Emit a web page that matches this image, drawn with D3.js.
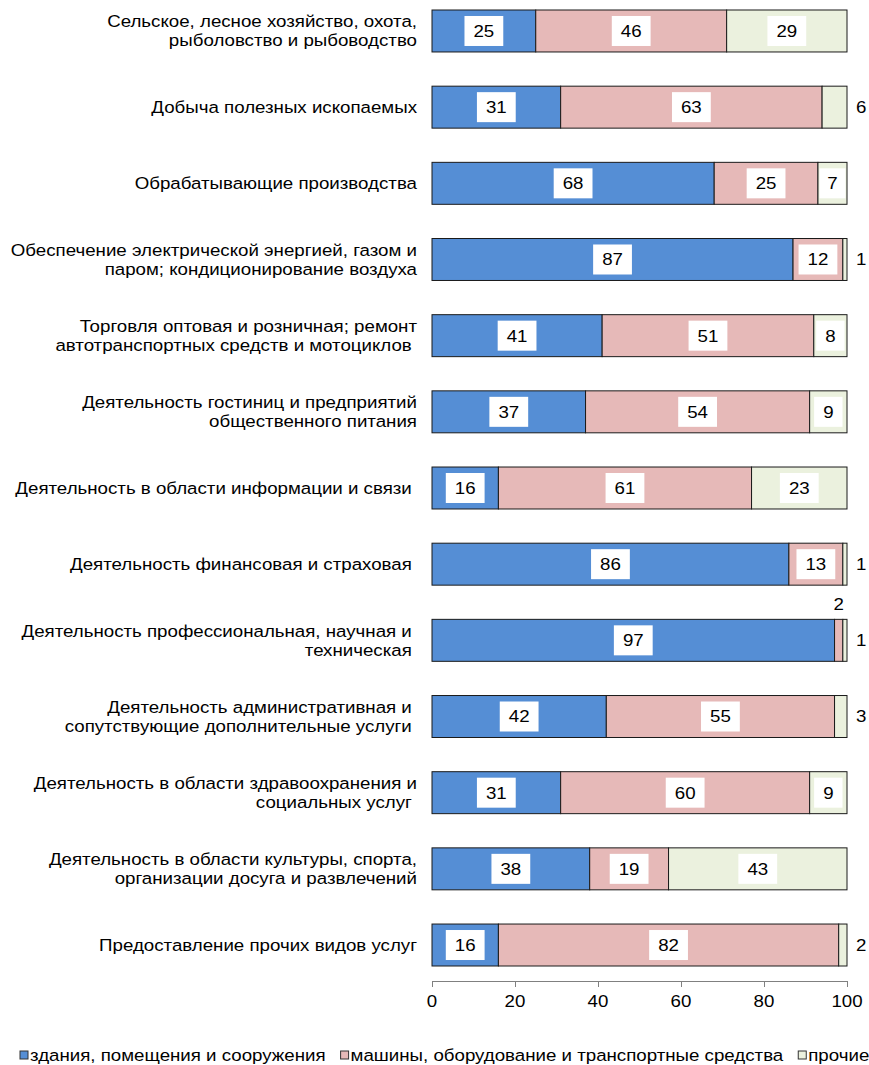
<!DOCTYPE html>
<html>
<head>
<meta charset="utf-8">
<script src="https://cdn.jsdelivr.net/npm/d3@7"></script>
<style>
  body { margin: 0; background: #fff; }
  text { font-family: "Liberation Sans", Arial, sans-serif; white-space: pre; }
</style>
</head>
<body>
<div id="chart"></div>
<script>
var categories = [
  "Сельское, лесное хозяйство, охота,\nрыболовство и рыбоводство",
  "Добыча полезных ископаемых",
  "Обрабатывающие производства",
  "Обеспечение электрической энергией, газом и\nпаром; кондиционирование воздуха",
  "Торговля оптовая и розничная; ремонт\nавтотранспортных средств и мотоциклов ",
  "Деятельность гостиниц и предприятий\nобщественного питания",
  "Деятельность в области информации и связи ",
  "Деятельность финансовая и страховая ",
  "Деятельность профессиональная, научная и \nтехническая ",
  "Деятельность административная и \nсопутствующие дополнительные услуги ",
  "Деятельность в области здравоохранения и\nсоциальных услуг ",
  "Деятельность в области культуры, спорта,\nорганизации досуга и развлечений",
  "Предоставление прочих видов услуг"
];
var buildings = [25, 31, 68, 87, 41, 37, 16, 86, 97, 42, 31, 38, 16];
var machines  = [46, 63, 25, 12, 51, 54, 61, 13, 2, 55, 60, 19, 82];
var other     = [29, 6, 7, 1, 8, 9, 23, 1, 1, 3, 9, 43, 2];
var seriesNames = ["здания, помещения и сооружения", "машины, оборудование и транспортные средства", "прочие"];
var seriesColors = ["#558ed5", "#e6b9b8", "#ebf1de"];
var xTicks = [0, 20, 40, 60, 80, 100];

var W = 869, H = 1065;
var FS = 17, SX = 1.1;   // the source picture is a bit stretched sideways

var svg = d3.select("#chart").append("svg")
    .attr("width", W)
    .attr("height", H);

// text drawn at (px,py) and widened by SX
function addText(parent, px, py, str, anchor) {
  var g = parent.append("g").attr("transform", "translate(" + px + "," + py + ") scale(" + SX + ",1)");
  var t = g.append("text")
    .attr("font-size", FS)
    .attr("fill", "#000")
    .attr("text-anchor", anchor || "start")
    .attr("dy", "0.35em")
    .text(str);
  return t;
}

var x = d3.scaleLinear().domain([0, 100]).range([432, 847]);
var y = d3.scaleBand().domain(d3.range(categories.length))
    .range([-7.1, 983.1]).paddingInner(0.449).paddingOuter(0.2245);

var rows = categories.map(function(c, i) {
  return { cat: c, 0: buildings[i], 1: machines[i], 2: other[i] };
});
var stack = d3.stack().keys([0, 1, 2])(rows);

// category labels
var labG = svg.append("g");
categories.forEach(function(c, i) {
  var lines = c.split("\n");
  var cy = y(i) + y.bandwidth() / 2;
  lines.forEach(function(l, j) {
    addText(labG, 417, cy + (j - (lines.length - 1) / 2) * 19, l, "end");
  });
});

// bars
var layer = svg.append("g").selectAll("g")
    .data(stack)
    .enter().append("g")
    .attr("fill", function(d, k) { return seriesColors[k]; });

layer.selectAll("rect")
    .data(function(d) { return d; })
    .enter().append("rect")
    .attr("x", function(d) { return x(d[0]); })
    .attr("width", function(d) { return x(d[1]) - x(d[0]); })
    .attr("y", function(d, i) { return y(i); })
    .attr("height", y.bandwidth())
    .attr("stroke", "#1a1a1a")
    .attr("stroke-width", 1);

// value labels
var vals = svg.append("g");
stack.forEach(function(s, k) {
  s.forEach(function(d, i) {
    var v = d[1] - d[0];
    var cy = y(i) + y.bandwidth() / 2;
    if (v < 7) {
      if (k === 2) addText(vals, x(100) + 9, cy, v, "start");
      else addText(vals, x((d[0] + d[1]) / 2), y(i) - 15, v, "middle");
      return;
    }
    var cx = x((d[0] + d[1]) / 2);
    var box = vals.append("rect").attr("fill", "#fff");
    var t = addText(vals, cx, cy, v, "middle");
    var tw = t.node().getComputedTextLength() * SX;
    var segW = x(d[1]) - x(d[0]);
    var bw = Math.min(tw + 18, segW - 3);
    box.attr("x", cx - bw / 2).attr("y", cy - 15)
      .attr("width", bw).attr("height", 30);
  });
});

// x axis
var axis = svg.append("g")
    .attr("transform", "translate(0,981)")
    .call(d3.axisBottom(x).tickValues(xTicks).tickSize(6).tickSizeOuter(0).tickFormat(""));
axis.select(".domain").attr("stroke", "#808080");
axis.selectAll(".tick line").attr("stroke", "#808080");
var tickG = svg.append("g");
xTicks.forEach(function(v) { addText(tickG, x(v), 1001, v, "middle"); });

// legend
var legend = svg.append("g").attr("transform", "translate(0,1055)");
var lx = 20;
seriesNames.forEach(function(n, k) {
  legend.append("rect").attr("x", lx).attr("y", -4).attr("width", 8).attr("height", 8)
    .attr("fill", seriesColors[k]).attr("stroke", "#333").attr("stroke-width", 1);
  var t = addText(legend, lx + 10, 0, n, "start");
  lx += 10 + t.node().getComputedTextLength() * SX + 15;
});
</script>
</body>
</html>
